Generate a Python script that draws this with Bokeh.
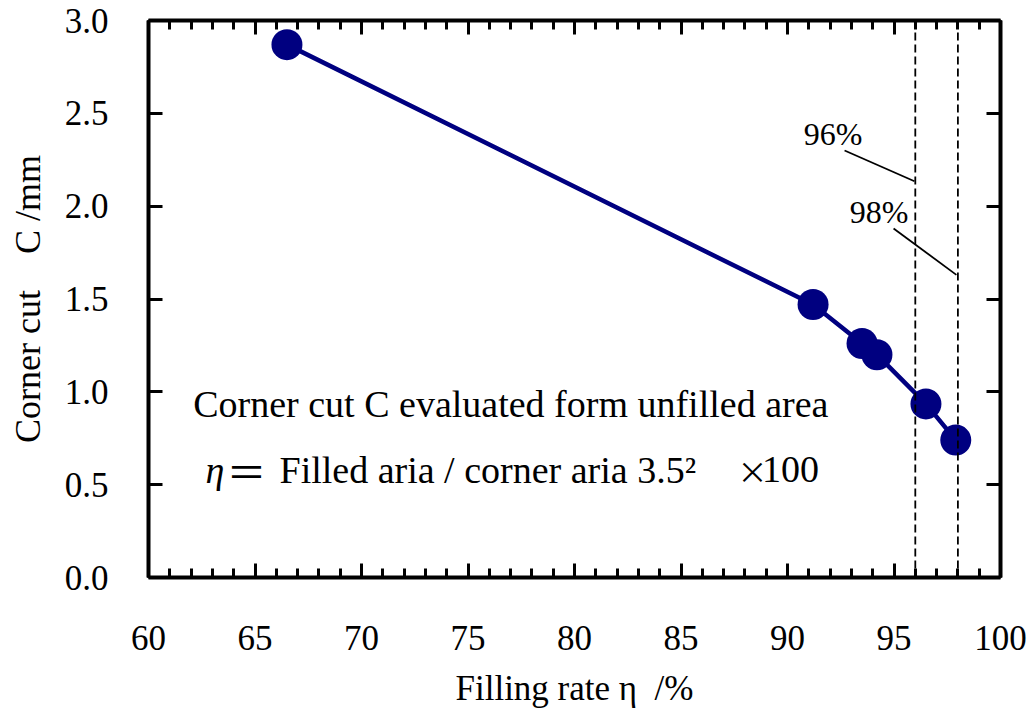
from bokeh.plotting import figure
from bokeh.models import LinearAxis, FixedTicker, PrintfTickFormatter, Span, Range1d, CustomJSTickFormatter
from bokeh.core.properties import value
from bokeh.embed import file_html
from bokeh.resources import INLINE

filling_rate = [66.5, 91.2, 93.5, 94.2, 96.5, 97.9]
corner_cut = [2.87, 1.47, 1.26, 1.20, 0.935, 0.74]
threshold_rates = [96, 98]
threshold_labels = ["96%", "98%"]
x_ticks = [60, 65, 70, 75, 80, 85, 90, 95, 100]
y_ticks = [0.0, 0.5, 1.0, 1.5, 2.0, 2.5, 3.0]

FONT = "Liberation Serif"
NAVY = "#000080"
NB = "\u00a0"

p = figure(width=1027, height=710, output_backend="svg", toolbar_location=None,
           x_range=Range1d(60, 100), y_range=Range1d(0, 3.0),
           x_axis_location=None, y_axis_location=None,
           min_border_left=148, min_border_right=27, min_border_top=20, min_border_bottom=132)
p.grid.visible = False
p.outline_line_color = None
p.background_fill_color = "white"

blank = CustomJSTickFormatter(code="return ''")

def style(ax, minor=True, labels=True):
    ax.axis_line_width = 4
    ax.axis_line_color = "black"
    ax.major_tick_in = 14
    ax.major_tick_out = 0
    ax.major_tick_line_width = 3
    ax.major_tick_line_color = "black"
    if minor:
        ax.minor_tick_in = 9
        ax.minor_tick_out = 0
        ax.minor_tick_line_width = 3
        ax.minor_tick_line_color = "black"
    else:
        ax.minor_tick_line_color = None
    ax.major_label_text_font = FONT
    ax.major_label_text_color = "black"
    ax.major_label_text_font_size = "35px"
    if not labels:
        ax.major_label_standoff = 0

xt = FixedTicker(ticks=x_ticks, minor_ticks=list(range(60, 101)))
yt = FixedTicker(ticks=y_ticks, minor_ticks=[])

xb = LinearAxis(ticker=xt)
style(xb)
xb.major_label_standoff = 48
xb.axis_label = "Filling rate η" + NB * 2 + "/%"
xb.axis_label_text_font = FONT
xb.axis_label_text_font_style = "normal"
xb.axis_label_text_font_size = "35px"
xb.axis_label_text_color = "black"
xb.axis_label_standoff = 16
p.add_layout(xb, "below")

xtop = LinearAxis(ticker=FixedTicker(ticks=x_ticks, minor_ticks=list(range(60, 101))),
                  formatter=blank)
style(xtop, labels=False)
p.add_layout(xtop, "above")

yl = LinearAxis(ticker=yt, formatter=PrintfTickFormatter(format="%.1f"))
style(yl, minor=False)
yl.major_label_standoff = 40
yl.axis_label = "Corner cut" + NB * 4 + "C /mm"
yl.axis_label_text_font = FONT
yl.axis_label_text_font_style = "normal"
yl.axis_label_text_font_size = "36px"
yl.axis_label_text_color = "black"
yl.axis_label_standoff = 14
p.add_layout(yl, "left")

yr = LinearAxis(ticker=FixedTicker(ticks=y_ticks, minor_ticks=[]), formatter=blank)
style(yr, minor=False, labels=False)
p.add_layout(yr, "right")

for r in threshold_rates:
    p.add_layout(Span(location=r, dimension="height", line_color="black",
                      line_width=1.8, line_dash="8 4"))

p.line(filling_rate, corner_cut, line_color=NAVY, line_width=4.5)
p.scatter(filling_rate, corner_cut, size=31, fill_color=NAVY, line_color=None)

# leader lines for threshold labels
p.segment(x0=[92.68, 94.98], y0=[2.30, 1.88], x1=[95.96, 97.93], y1=[2.134, 1.63],
          line_color="black", line_width=1.8)
p.text(x=[93.52, 95.68], y=[2.39, 1.97], text=threshold_labels, text_font=value(FONT),
       text_font_size="32px", text_align="right", text_baseline="middle", text_color="black")

p.text(x=[62.1], y=[0.935], text=["Corner cut C evaluated form unfilled area"],
       text_font=value(FONT), text_font_size="38px", text_baseline="middle",
       text_align="left", text_color="black")
p.text(x=[62.68], y=[0.58], text=["η"], text_font=value(FONT), text_font_style="italic",
       text_font_size="38px", text_baseline="middle", text_align="left", text_color="black")
p.text(x=[63.66], y=[0.58], text=["＝"],
       text_font=value("Noto Sans CJK JP"), text_font_size="40px",
       text_baseline="middle", text_align="left", text_color="black")
p.text(x=[66.15], y=[0.58], text=["Filled aria / corner aria 3.5²"],
       text_font=value(FONT), text_font_size="38px",
       text_baseline="middle", text_align="left", text_color="black")
p.text(x=[87.65], y=[0.58], text=["×"],
       text_font=value("Noto Sans CJK JP"), text_font_size="30px",
       text_baseline="middle", text_align="left", text_color="black")
p.text(x=[88.8], y=[0.58], text=["100"],
       text_font=value(FONT), text_font_size="38px",
       text_baseline="middle", text_align="left", text_color="black")

open("out.html", "w").write(file_html(p, INLINE))
